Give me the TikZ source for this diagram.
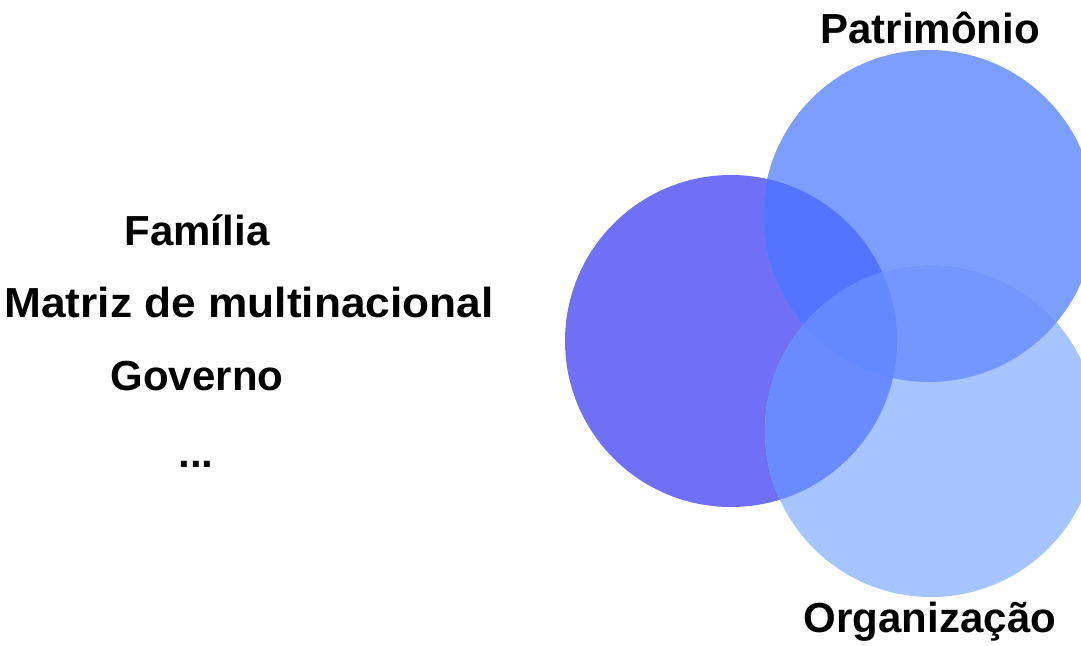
\documentclass[tikz,border=0pt]{standalone}
\usepackage{fontspec}
\setmainfont{Liberation Sans}
\definecolor{cL}{RGB}{112,112,246}
\definecolor{cT}{RGB}{124,158,255}
\definecolor{cB}{RGB}{166,196,255}
\definecolor{cLT}{RGB}{84,116,255}
\definecolor{cLB}{RGB}{106,138,255}
\definecolor{cTB}{RGB}{116,150,255}
\definecolor{cLTB}{RGB}{100,136,255}
\begin{document}
\begin{tikzpicture}[x=1pt,y=-1pt,
  lbl/.style={font=\fontsize{42}{50}\selectfont\bfseries, anchor=base, inner sep=0pt}]
\useasboundingbox (0,0) rectangle (1081,645);
\clip (0,0) rectangle (1081,645);
\coordinate (L) at (731,341);
\coordinate (T) at (929,216);
\coordinate (B) at (931,431);
\def\rL{166pt}
\def\rT{166pt}
\def\rB{166pt}
% single circles
\fill[cL] (L) circle[radius=\rL];
\fill[cT] (T) circle[radius=\rT];
\fill[cB] (B) circle[radius=\rB];
% pairwise overlaps
\begin{scope}
  \clip (L) circle[radius=\rL];
  \fill[cLT] (T) circle[radius=\rT];
\end{scope}
\begin{scope}
  \clip (L) circle[radius=\rL];
  \fill[cLB] (B) circle[radius=\rB];
\end{scope}
\begin{scope}
  \clip (T) circle[radius=\rT];
  \fill[cTB] (B) circle[radius=\rB];
\end{scope}
\begin{scope}
  \clip (L) circle[radius=\rL];
  \clip (T) circle[radius=\rT];
  \fill[cLTB] (B) circle[radius=\rB];
\end{scope}
% labels
\node[lbl] (pat) at (930,43) {Patrimônio};
\node[lbl] (org) at (930,632) {Organização};
\node[lbl] (fam) at (197,245) {Família};
\node[lbl] (mat) at (249,317) {\scalebox{1.054}[1]{Matriz de multinacional}};
\node[lbl] (gov) at (197,390) {Governo};
\node[lbl] (dots) at (196,467) {...};
\end{tikzpicture}
\end{document}
